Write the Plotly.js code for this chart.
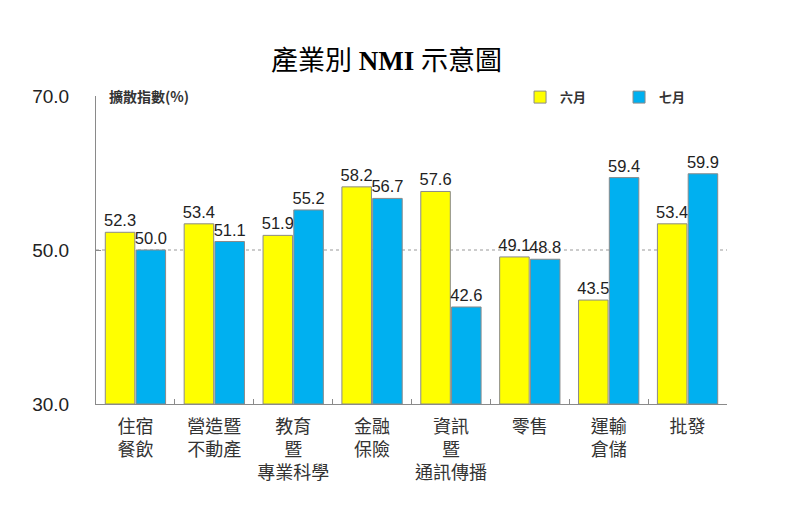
<!DOCTYPE html>
<html><head><meta charset="utf-8">
<script src="https://cdn.plot.ly/plotly-3.0.1.min.js"></script>
<style>body{margin:0;background:#fff}#c{width:797px;height:525px}</style>
</head><body><div id="c"></div>
<script>
const categories = ['住宿<br>餐飲','營造暨<br>不動產','教育<br>暨<br>專業科學','金融<br>保險','資訊<br>暨<br>通訊傳播','零售','運輸<br>倉儲','批發'];
const juneValues = [52.3, 53.4, 51.9, 58.2, 57.6, 49.1, 43.5, 53.4];
const julyValues = [50.0, 51.1, 55.2, 56.7, 42.6, 48.8, 59.4, 59.9];
const seriesNames = ['六月','七月'];
const yTicks = [30, 50, 70];

const numFont = {family:'"Liberation Sans", Arial, sans-serif', size:16.5, color:'#222'};
function bar(name, vals, color){
  return {type:'bar', name:name, x:categories, y:vals.map(v=>v-30), base:30,
    marker:{color:color, line:{color:'#8a8a8a', width:1}},
    text:vals.map(v=>v.toFixed(1)), textposition:'outside', cliponaxis:false,
    constraintext:'none', textfont:numFont, outsidetextfont:numFont};
}
const data = [bar(seriesNames[0], juneValues, '#FFFF00'), bar(seriesNames[1], julyValues, '#00B0F0')];
const layout = {
  width:797, height:525, paper_bgcolor:'#fff', plot_bgcolor:'#fff',
  margin:{l:96, r:70, t:96, b:121, autoexpand:false},
  barmode:'group', bargap:0.22, bargroupgap:0.04,
  title:{text:'產業別 <b>NMI</b> 示意圖', x:0.485, xanchor:'center', y:0.885, yanchor:'middle',
    font:{family:'"Liberation Serif", "Noto Sans CJK TC", serif', size:27, color:'#000'}},
  xaxis:{showline:true, linecolor:'#8a8a8a', linewidth:1, ticks:'inside', tickson:'boundaries',
    ticklen:5, tickcolor:'#8a8a8a', showgrid:false, zeroline:false, tickangle:0, automargin:false,
    ticklabelstandoff:6,
    tickfont:{family:'"Noto Sans CJK TC", sans-serif', size:18, color:'#333'}},
  yaxis:{range:[30,70], tickvals:yTicks, ticktext:yTicks.map(v=>v.toFixed(1)),
    showline:true, linecolor:'#8a8a8a', linewidth:1, ticks:'inside', ticklen:5, tickcolor:'#8a8a8a',
    showgrid:false, zeroline:false, ticklabelstandoff:22, automargin:false,
    tickfont:{family:'"Liberation Sans", Arial, sans-serif', size:19, color:'#222'}},
  showlegend:true,
  legend:{orientation:'h', x:0.672, xanchor:'left', y:1.045, yanchor:'top',
    entrywidth:54, entrywidthmode:'pixels', itemwidth:30, traceorder:'normal',
    font:{family:'"Noto Sans CJK TC", sans-serif', size:13, color:'#333', weight:'bold'}},
  shapes:[{type:'line', xref:'paper', x0:0, x1:1, yref:'y', y0:50, y1:50,
    line:{color:'#999', width:1, dash:'dot'}, layer:'below'}],
  annotations:[{text:'<b>擴散指數(%)</b>', xref:'paper', yref:'paper', x:0.018, y:1.0, xanchor:'left', yanchor:'middle',
    showarrow:false, font:{family:'"Noto Sans CJK TC", sans-serif', size:14, color:'#333'}}]
};
Plotly.newPlot('c', data, layout, {displayModeBar:false, staticPlot:true});
</script></body></html>
